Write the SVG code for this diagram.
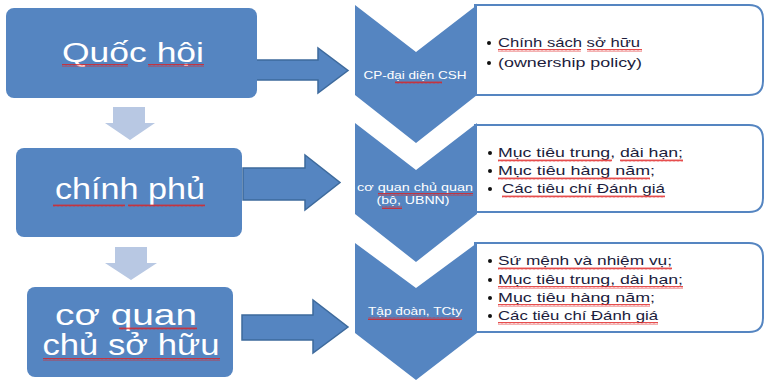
<svg xmlns="http://www.w3.org/2000/svg" width="765" height="380" viewBox="0 0 765 380">
<defs>
<pattern id="sq" x="0" y="0" width="4" height="3" patternUnits="userSpaceOnUse">
<path d="M0 2.5 L1 0.5 L2 2.5 L3 0.5 L4 2.5" fill="none" stroke="#e02020" stroke-width="0.8"/>
</pattern>
<style>
.box{fill:#5585c1}
.big{font-family:"Liberation Sans",Arial,sans-serif;fill:#fff;text-anchor:middle}
.chev{fill:#5585c1}
.ctext{font-family:"Liberation Sans",Arial,sans-serif;fill:#fff;text-anchor:middle}
.tbox{fill:#fff;stroke:#5585c1;stroke-width:2}
.item{font-family:"Liberation Sans",Arial,sans-serif;font-size:13px;fill:#1c1c3c}
.bul{fill:#111}
.down{fill:#b8c8e3}
.rarrow{fill:#5585c1;stroke:#3d6a9c;stroke-width:1.5}
.sq{fill:url(#sq)}
</style>
</defs>
<rect width="765" height="380" fill="#fff"/>

<g id="connectors">
<path class="down" d="M113 107 H145 V123 H155 L130 140 L105 123 H113 Z"/>
<path class="down" d="M115 247 H147 V263 H157 L131 280 L105 263 H115 Z"/>
<path class="rarrow" d="M244 60 H318 V48 L348 70.5 L318 93 V80 H244 Z"/>
<path class="rarrow" d="M243 168 H305 V155 L340 182.5 L305 210 V200 H243 Z"/>
<path class="rarrow" d="M242 315 H313 V300 L348 327 L313 353 V340 H242 Z"/>
</g>

<g id="quoc-hoi">
<rect class="box" x="6" y="8" width="251" height="90" rx="8"/>
<text class="big" x="133" y="62" font-size="27" textLength="142" lengthAdjust="spacingAndGlyphs">Quốc hội</text>
<rect class="sq" x="62" y="64" width="66" height="3"/>
<rect class="sq" x="148" y="64" width="56" height="3"/>
</g>

<g id="chinh-phu">
<rect class="box" x="16" y="148" width="226" height="89" rx="8"/>
<text class="big" x="130" y="199" font-size="30" textLength="150" lengthAdjust="spacingAndGlyphs">chính phủ</text>
<rect class="sq" x="53" y="204" width="72" height="3"/>
<rect class="sq" x="128" y="204" width="77" height="3"/>
</g>

<g id="co-quan-chu-so-huu">
<rect class="box" x="27" y="287" width="206" height="90" rx="8"/>
<text class="big" x="126" y="325" font-size="30" textLength="142" lengthAdjust="spacingAndGlyphs">cơ quan</text>
<text class="big" x="131" y="355" font-size="30" textLength="177" lengthAdjust="spacingAndGlyphs">chủ sở hữu</text>
<rect class="sq" x="119" y="327" width="78" height="3"/>
<rect class="sq" x="43" y="358" width="177" height="3"/>
</g>

<g id="text-box-1">
<path class="tbox" d="M475 5 H749 Q763 5 763 19 V81 Q763 95 749 95 H475 Z"/>
<circle class="bul" cx="489" cy="43" r="2"/>
<text class="item" x="498" y="47" textLength="142" lengthAdjust="spacingAndGlyphs">Chính sách sở hữu</text>
<rect class="sq" x="498" y="49" width="83" height="3"/>
<rect class="sq" x="587" y="49" width="55" height="3"/>
<circle class="bul" cx="489" cy="63" r="2"/>
<text class="item" x="498" y="67" textLength="144" lengthAdjust="spacingAndGlyphs">(ownership policy)</text>
</g>

<g id="text-box-2">
<path class="tbox" d="M475 125 H749 Q763 125 763 139 V198 Q763 212 749 212 H475 Z"/>
<circle class="bul" cx="490" cy="153" r="2"/>
<text class="item" x="498" y="157" textLength="185" lengthAdjust="spacingAndGlyphs">Mục tiêu trung, dài hạn;</text>
<rect class="sq" x="498" y="159" width="114" height="3"/>
<rect class="sq" x="620" y="159" width="63" height="3"/>
<circle class="bul" cx="490" cy="171" r="2"/>
<text class="item" x="498" y="175" textLength="157" lengthAdjust="spacingAndGlyphs">Mục tiêu hàng năm;</text>
<rect class="sq" x="498" y="177" width="152" height="3"/>
<circle class="bul" cx="490" cy="189" r="2"/>
<text class="item" x="502" y="193" textLength="163" lengthAdjust="spacingAndGlyphs">Các tiêu chí Đánh giá</text>
<rect class="sq" x="502" y="195" width="163" height="3"/>
</g>

<g id="text-box-3">
<path class="tbox" d="M475 243 H749 Q763 243 763 257 V318 Q763 332 749 332 H475 Z"/>
<circle class="bul" cx="490" cy="261" r="2"/>
<text class="item" x="498" y="265" textLength="174" lengthAdjust="spacingAndGlyphs">Sứ mệnh và nhiệm vụ;</text>
<rect class="sq" x="498" y="267" width="174" height="3"/>
<circle class="bul" cx="490" cy="280" r="2"/>
<text class="item" x="498" y="284" textLength="185" lengthAdjust="spacingAndGlyphs">Mục tiêu trung, dài hạn;</text>
<rect class="sq" x="498" y="286" width="185" height="3"/>
<circle class="bul" cx="490" cy="298" r="2"/>
<text class="item" x="498" y="302" textLength="157" lengthAdjust="spacingAndGlyphs">Mục tiêu hàng năm;</text>
<rect class="sq" x="498" y="304" width="152" height="3"/>
<circle class="bul" cx="490" cy="316" r="2"/>
<text class="item" x="498" y="320" textLength="160" lengthAdjust="spacingAndGlyphs">Các tiêu chí Đánh giá</text>
<rect class="sq" x="498" y="322" width="160" height="3"/>
</g>

<g id="chevron-1">
<path class="chev" d="M355 5 L416 52 L477 5 V95 L416 143 L355 95 Z"/>
<text class="ctext" x="415" y="79" font-size="11" textLength="103" lengthAdjust="spacingAndGlyphs">CP-đại diện CSH</text>
<rect class="sq" x="395" y="81" width="47" height="3"/>
</g>

<g id="chevron-2">
<path class="chev" d="M355 123 L416 170 L477 123 V214 L416 262 L355 214 Z"/>
<text class="ctext" x="415" y="191" font-size="10" textLength="116" lengthAdjust="spacingAndGlyphs">cơ quan chủ quan</text>
<text class="ctext" x="413" y="204" font-size="10" textLength="73" lengthAdjust="spacingAndGlyphs">(bộ, UBNN)</text>
<rect class="sq" x="378" y="193" width="95" height="3"/>
<rect class="sq" x="382" y="206" width="20" height="3"/>
</g>

<g id="chevron-3">
<path class="chev" d="M355 243 L416 288 L477 243 V333 L416 380 L355 333 Z"/>
<text class="ctext" x="415" y="315" font-size="10" textLength="94" lengthAdjust="spacingAndGlyphs">Tập đoàn, TCty</text>
<rect class="sq" x="368" y="317" width="94" height="3"/>
</g>
</svg>
